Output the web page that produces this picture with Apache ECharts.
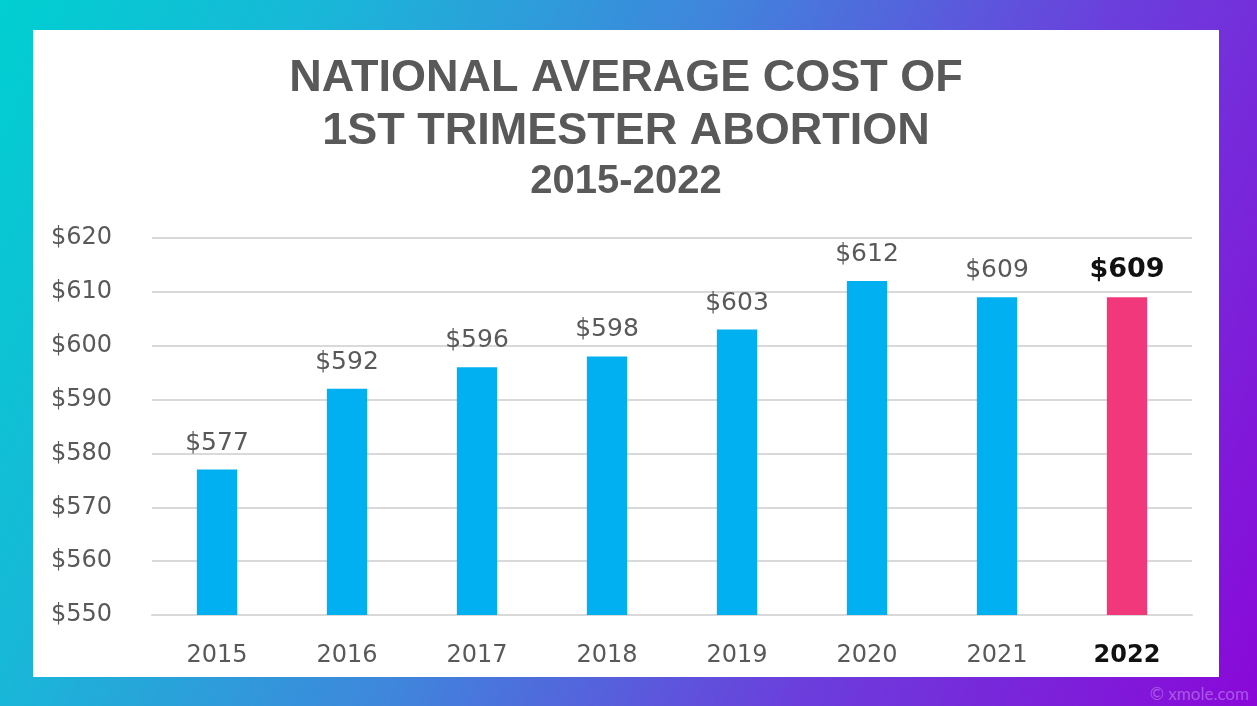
<!DOCTYPE html>
<html>
<head>
<meta charset="utf-8">
<script src="https://cdn.jsdelivr.net/npm/echarts@6/dist/echarts.min.js"></script>
<style>
  html, body { margin: 0; padding: 0; }
  body {
    width: 1257px; height: 706px; overflow: hidden; position: relative;
    background: linear-gradient(115deg, #00cfd0 0%, #18b8d8 20%, #3f86dc 45%, #6a40dc 70%, #8a08d8 100%);
  }
  #chart {
    position: absolute; left: 33px; top: 30px; width: 1186px; height: 647px;
    background: #ffffff;
  }
  #mark {
    position: absolute; right: 8px; bottom: 2px;
    font-family: "Lato", sans-serif; font-size: 17px; color: rgba(200,150,240,0.55);
  }
</style>
</head>
<body>
<div id="chart"></div>
<div id="mark">© xmole.com</div>
<script>
var years = ['2015', '2016', '2017', '2018', '2019', '2020', '2021', '2022'];
var costs = [577, 592, 596, 598, 603, 612, 609, 609];
var highlightYear = '2022';

var echart_cost = echarts.init(document.getElementById('chart'));

var titleFont = '"Liberation Sans", "DejaVu Sans", sans-serif';
var numFont = '"DejaVu Sans", sans-serif';

function handleseries_cost() {
    var bar_data = [];
    for (var i = 0; i < years.length; i++) {
        var hot = years[i] === highlightYear;
        bar_data.push({
            value: costs[i],
            itemStyle: { color: hot ? '#f0387a' : '#00b0f0' },
            label: hot ? { color: '#111111', fontWeight: 'bold', fontSize: 27 } : {}
        });
    }
    return {
        type: 'bar',
        data: bar_data,
        barWidth: '31%',
        label: {
            show: true,
            position: 'top',
            distance: 14,
            fontFamily: numFont,
            fontSize: 25,
            color: '#595959',
            formatter: function (p) { return '$' + p.value; }
        }
    };
}

echart_cost.setOption({
    animation: false,
    title: [
        {
            text: 'NATIONAL AVERAGE COST OF\n1ST TRIMESTER ABORTION',
            left: 'center',
            top: 17,
            textStyle: { fontFamily: titleFont, fontSize: 45, fontWeight: 'bold', color: '#595959', lineHeight: 53 }
        },
        {
            text: '2015-2022',
            left: 'center',
            top: 127,
            textStyle: { fontFamily: titleFont, fontSize: 40, fontWeight: 'bold', color: '#595959' }
        }
    ],
    grid: { left: 119, right: 27, top: 208, bottom: 62, containLabel: false },
    xAxis: {
        type: 'category',
        data: years,
        axisTick: { show: false },
        axisLine: { lineStyle: { color: '#d9d9d9', width: 2 } },
        axisLabel: {
            interval: 0,
            margin: 29,
            fontFamily: numFont,
            fontSize: 24,
            color: '#595959',
            formatter: function (v) { return v === highlightYear ? '{b|' + v + '}' : v; },
            rich: { b: { fontFamily: numFont, fontSize: 24, fontWeight: 'bold', color: '#111111' } }
        }
    },
    yAxis: {
        type: 'value',
        min: 550,
        max: 620,
        interval: 10,
        axisLine: { show: false },
        axisTick: { show: false },
        splitLine: { lineStyle: { color: '#d9d9d9', width: 2 } },
        axisLabel: {
            margin: 40,
            fontFamily: numFont,
            fontSize: 24,
            color: '#595959',
            formatter: function (v) { return '$' + v; }
        }
    },
    series: handleseries_cost()
});
</script>
</body>
</html>
